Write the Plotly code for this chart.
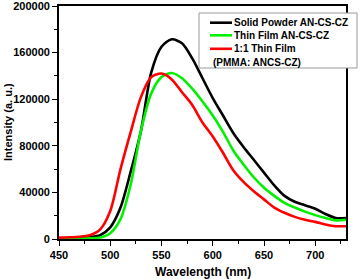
import plotly.graph_objects as go

wavelength = [450, 460, 470, 480, 490, 500, 510, 520, 530, 540, 550, 560, 570, 580, 590,
              600, 610, 620, 630, 640, 650, 660, 670, 680, 690, 700, 710, 720, 730]
solid_powder = [500, 600, 800, 1500, 3200, 10000, 27000, 58000, 93000, 143000, 165000, 171400,
                168000, 155000, 138000, 121000, 106000, 91000, 79000, 68000, 57000, 46000,
                37000, 32000, 29000, 26000, 21500, 18000, 18000]
thin_film = [200, 200, 300, 500, 1200, 5000, 17000, 47000, 93000, 125000, 139000, 142500,
             138000, 129000, 118000, 106000, 92000, 76000, 64000, 53000, 44000, 37000,
             31000, 27000, 23500, 20500, 18000, 16000, 16500]
pmma_film = [1200, 1500, 2000, 3200, 8000, 24000, 60000, 92000, 122000, 139000, 142000, 137000,
             126000, 115000, 100000, 88000, 74000, 59000, 49000, 41000, 34000, 27000,
             22500, 19000, 16500, 14700, 12500, 11000, 11000]

series_names = ["Solid Powder AN-CS-CZ", "Thin Film AN-CS-CZ", "1:1 Thin Film"]
extra_legend_text = "(PMMA: ANCS-CZ)"
colors = ["#000000", "#00f000", "#ff0000"]

x_ticks = [450, 500, 550, 600, 650, 700]
y_ticks = [0, 40000, 80000, 120000, 160000, 200000]
y_tick_labels = [str(v) for v in y_ticks]
x_tick_labels = [str(v) for v in x_ticks]

FONT = "Arial, Liberation Sans, sans-serif"
W, H = 360, 279
ML, MR, MT, MB = 59, 14, 6, 40
PW, PH = W - ML - MR, H - MT - MB


def px(xpix):
    return (xpix - ML) / PW


def py(ypix):
    return (H - MB - ypix) / PH


fig = go.Figure()
for name, ys, c in zip(series_names, [solid_powder, thin_film, pmma_film], colors):
    fig.add_trace(go.Scatter(x=wavelength, y=ys, mode="lines", name=name,
                             line=dict(color=c, width=2.6, shape="spline", smoothing=0.8)))

axis_common = dict(showline=True, linecolor="black", linewidth=1.8, mirror=True,
                   ticks="outside", tickcolor="black", tickwidth=1.3, ticklen=5,
                   showgrid=False, zeroline=False, automargin=False,
                   ticklabeloverflow="allow",
                   tickfont=dict(family=FONT, size=11, color="black", weight="bold"))

fig.update_layout(
    width=W, height=H,
    margin=dict(l=ML, r=MR, t=MT, b=MB),
    plot_bgcolor="white", paper_bgcolor="white",
    showlegend=False,
    xaxis=dict(range=[450, 730], tickvals=x_ticks, ticktext=x_tick_labels,
               minor=dict(ticks="outside", dtick=25, ticklen=3, tickcolor="black", tickwidth=1.2),
               **axis_common),
    yaxis=dict(range=[0, 200000], tickvals=y_ticks, ticktext=y_tick_labels,
               minor=dict(ticks="outside", dtick=20000, ticklen=3, tickcolor="black", tickwidth=1.2),
               **axis_common),
)

# axis titles
fig.add_annotation(text="Wavelength (nm)", xref="paper", yref="paper",
                   x=px(202.5), y=py(272), xanchor="center", yanchor="middle", showarrow=False,
                   font=dict(family=FONT, size=12, color="black", weight="bold"))
fig.add_annotation(text="Intensity (a. u.)", xref="paper", yref="paper", textangle=-90,
                   x=px(8), y=py(122), xanchor="center", yanchor="middle", showarrow=False,
                   font=dict(family=FONT, size=11, color="black", weight="bold"))

# legend box
fig.add_shape(type="rect", xref="paper", yref="paper",
              x0=px(199), x1=px(357), y0=py(68), y1=py(13),
              line=dict(color="#999999", width=1), fillcolor="white", layer="above")
rows = [22.7, 35.3, 48.8]
for name, c, r in zip(series_names, colors, rows):
    fig.add_shape(type="line", xref="paper", yref="paper",
                  x0=px(210), x1=px(232), y0=py(r), y1=py(r),
                  line=dict(color=c, width=2.6), layer="above")
    fig.add_annotation(text=name, xref="paper", yref="paper",
                       x=px(232), y=py(r), xanchor="left", yanchor="middle", showarrow=False,
                       font=dict(family=FONT, size=10, color="black", weight="bold"))
fig.add_annotation(text=extra_legend_text, xref="paper", yref="paper",
                   x=px(211), y=py(62.5), xanchor="left", yanchor="middle", showarrow=False,
                   font=dict(family=FONT, size=10, color="black", weight="bold"))

fig.write_html("out.html", config={"displayModeBar": False},
               post_script="document.body.style.margin='0';document.body.style.overflow='hidden';")
